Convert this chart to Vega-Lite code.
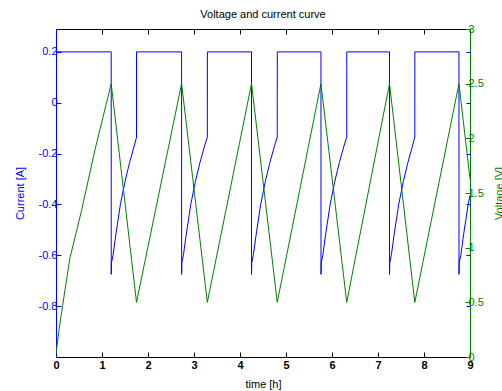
{
  "$schema": "https://vega.github.io/schema/vega-lite/v6.json",
  "width": 414,
  "height": 328,
  "autosize": {"type": "none"},
  "padding": {"left": 56, "top": 29, "right": 32, "bottom": 34},
  "title": {"text": "Voltage and current curve", "fontSize": 11, "font": "Liberation Sans", "fontWeight": "normal", "color": "#000000", "offset": 3},
  "config": {"view": {"stroke": "#000000", "strokeWidth": 1}, "font": "Liberation Sans"},
  "datasets": {
    "current": [
      {"t": 0, "I": 0.2}, {"t": 1.2, "I": 0.2}, {"t": 1.201, "I": -0.675}, {"t": 1.205, "I": -0.63}, {"t": 1.24, "I": -0.6}, {"t": 1.3, "I": -0.52}, {"t": 1.4, "I": -0.4}, {"t": 1.5, "I": -0.31}, {"t": 1.6, "I": -0.235}, {"t": 1.7, "I": -0.17}, {"t": 1.75, "I": -0.135},
      {"t": 1.751, "I": 0.2}, {"t": 2.73, "I": 0.2}, {"t": 2.731, "I": -0.675}, {"t": 2.735, "I": -0.63}, {"t": 2.77, "I": -0.6}, {"t": 2.83, "I": -0.52}, {"t": 2.93, "I": -0.4}, {"t": 3.03, "I": -0.31}, {"t": 3.13, "I": -0.235}, {"t": 3.23, "I": -0.17}, {"t": 3.29, "I": -0.135},
      {"t": 3.291, "I": 0.2}, {"t": 4.25, "I": 0.2}, {"t": 4.251, "I": -0.675}, {"t": 4.255, "I": -0.63}, {"t": 4.29, "I": -0.6}, {"t": 4.35, "I": -0.52}, {"t": 4.45, "I": -0.4}, {"t": 4.55, "I": -0.31}, {"t": 4.65, "I": -0.235}, {"t": 4.75, "I": -0.17}, {"t": 4.81, "I": -0.135},
      {"t": 4.811, "I": 0.2}, {"t": 5.76, "I": 0.2}, {"t": 5.761, "I": -0.675}, {"t": 5.765, "I": -0.63}, {"t": 5.8, "I": -0.6}, {"t": 5.86, "I": -0.52}, {"t": 5.96, "I": -0.4}, {"t": 6.06, "I": -0.31}, {"t": 6.16, "I": -0.235}, {"t": 6.26, "I": -0.17}, {"t": 6.32, "I": -0.135},
      {"t": 6.321, "I": 0.2}, {"t": 7.25, "I": 0.2}, {"t": 7.251, "I": -0.675}, {"t": 7.255, "I": -0.63}, {"t": 7.29, "I": -0.6}, {"t": 7.35, "I": -0.52}, {"t": 7.45, "I": -0.4}, {"t": 7.55, "I": -0.31}, {"t": 7.65, "I": -0.235}, {"t": 7.75, "I": -0.17}, {"t": 7.8, "I": -0.135},
      {"t": 7.801, "I": 0.2}, {"t": 8.76, "I": 0.2}, {"t": 8.761, "I": -0.675}, {"t": 8.765, "I": -0.63}, {"t": 8.8, "I": -0.6}, {"t": 8.86, "I": -0.52}, {"t": 8.96, "I": -0.4}, {"t": 9.0, "I": -0.365}
    ],
    "voltage": [
      {"t": 0, "V": 0.03}, {"t": 0.07, "V": 0.26}, {"t": 0.14, "V": 0.46}, {"t": 0.3, "V": 0.9}, {"t": 0.55, "V": 1.33}, {"t": 0.85, "V": 1.9}, {"t": 1.2, "V": 2.5},
      {"t": 1.75, "V": 0.5}, {"t": 2.73, "V": 2.5}, {"t": 3.29, "V": 0.5}, {"t": 4.25, "V": 2.5}, {"t": 4.81, "V": 0.5}, {"t": 5.76, "V": 2.5}, {"t": 6.32, "V": 0.5}, {"t": 7.25, "V": 2.5}, {"t": 7.8, "V": 0.5}, {"t": 8.76, "V": 2.5}, {"t": 9.0, "V": 1.63}
    ]
  },
  "layer": [
    {
      "data": {"name": "current"},
      "mark": {"type": "line", "color": "#0000ff", "strokeWidth": 1, "clip": true},
      "encoding": {
        "x": {"field": "t", "type": "quantitative", "scale": {"domain": [0, 9], "nice": false},
          "axis": {"orient": "bottom", "title": "time [h]", "titleFontSize": 11, "titleFontWeight": "normal", "titleColor": "#000000", "titlePadding": 8,
            "values": [0, 1, 2, 3, 4, 5, 6, 7, 8, 9], "labelFontSize": 11, "labelFontWeight": "bold", "labelColor": "#000000", "labelFlush": false,
            "tickSize": -5, "tickColor": "#000000", "domainColor": "#000000", "labelPadding": 7, "grid": false}},
        "y": {"field": "I", "type": "quantitative", "scale": {"domain": [-1, 0.29], "nice": false, "zero": false},
          "axis": {"orient": "left", "title": "Current [A]", "titleFontSize": 11, "titleFontWeight": "normal", "titleColor": "#0000ff", "titlePadding": 13,
            "values": [-0.8, -0.6, -0.4, -0.2, 0, 0.2], "format": "~g", "labelExpr": "replace(datum.label, '\u2212', '-')", "labelFontSize": 11, "labelColor": "#0000ff",
            "tickSize": -5, "tickColor": "#0000ff", "domainColor": "#0000ff", "labelPadding": 4, "grid": false}}
      }
    },
    {
      "data": {"name": "voltage"},
      "mark": {"type": "line", "color": "#008000", "strokeWidth": 1, "clip": true},
      "encoding": {
        "x": {"field": "t", "type": "quantitative", "scale": {"domain": [0, 9], "nice": false},
          "axis": {"orient": "top", "title": null, "labels": false, "values": [0, 1, 2, 3, 4, 5, 6, 7, 8, 9], "tickSize": -5, "tickColor": "#000000", "domainColor": "#000000", "grid": false}},
        "y": {"field": "V", "type": "quantitative", "scale": {"domain": [0, 3], "nice": false, "zero": false},
          "axis": {"orient": "right", "title": "Voltage [V]", "titleAngle": -90, "titleFontSize": 11, "titleFontWeight": "normal", "titleColor": "#008000", "titlePadding": 21,
            "values": [0, 0.5, 1, 1.5, 2, 2.5, 3], "format": "~g", "labelFontSize": 11, "labelColor": "#008000",
            "tickSize": -5, "tickColor": "#008000", "domainColor": "#008000", "labelPadding": 3, "grid": false}}
      }
    },
    {
      "data": {"name": "current"},
      "mark": {"type": "line", "opacity": 0},
      "encoding": {
        "x": {"field": "t", "type": "quantitative", "scale": {"domain": [0, 9], "nice": false}, "axis": null},
        "y": {"field": "I", "type": "quantitative", "scale": {"domain": [-1, 0.29], "nice": false, "zero": false},
          "axis": {"orient": "right", "title": null, "labels": false, "domain": false, "values": [-0.8, -0.6, -0.4, -0.2, 0, 0.2], "tickSize": -4, "tickColor": "#0000ff", "grid": false}}
      }
    }
  ],
  "resolve": {"scale": {"y": "independent"}, "axis": {"x": "independent", "y": "independent"}}
}
